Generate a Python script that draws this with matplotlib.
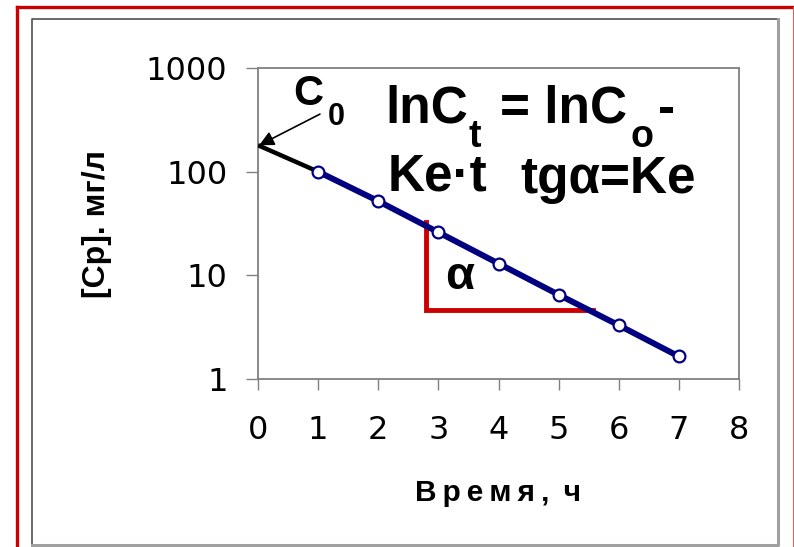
import matplotlib
matplotlib.use("Agg")
import matplotlib.pyplot as plt
from matplotlib.lines import Line2D

plt.rcParams["font.family"] = ["Liberation Sans", "DejaVu Sans"]

# данные
hours = [1, 2, 3, 4, 5, 6, 7]
conc = [100, 52, 26, 13, 6.5, 3.3, 1.65]
extrap_x = [0, 1]
extrap_y = [180, 100]
tri_x = [2.8, 2.8, 5.57]
tri_y = [32.7, 4.6, 4.6]
x_ticks = [0, 1, 2, 3, 4, 5, 6, 7, 8]
y_ticks = [1, 10, 100, 1000]

W, H = 794, 547
fig = plt.figure(figsize=(W / 100, H / 100), dpi=100)


def fx(px):
    return px / W


def fy(py):
    return 1 - py / H


# рамки вокруг рисунка
fig.add_artist(Line2D([fx(17), fx(17)], [fy(7), 0], color="#cc0000", lw=2.4))
fig.add_artist(Line2D([fx(17), fx(793)], [fy(7), fy(7)], color="#cc0000", lw=2.4))
fig.add_artist(Line2D([fx(792.5), fx(792.5)], [fy(7), 0], color="#d86060", lw=0.8))
fig.add_artist(Line2D([fx(32), fx(32), fx(778)], [0.003, fy(19), fy(19)], color="#505050", lw=1.2))
fig.add_artist(Line2D([fx(32), fx(778), fx(778)], [fy(545), fy(545), fy(19)], color="#a0a0a0", lw=2.2))

ax = fig.add_axes([fx(258), fy(379), fx(739) - fx(258), fy(68) - fy(379)])
ax.set_yscale("log")
ax.set_xlim(0, 8)
ax.set_ylim(1, 1000)

ax.plot(extrap_x, extrap_y, color="black", lw=3.2, solid_capstyle="butt", zorder=3)
ax.plot(hours, conc, color="#000080", lw=4.3, marker="o", markersize=8.5,
        markerfacecolor="white", markeredgecolor="#000080", markeredgewidth=1.6, zorder=4)
ax.plot(tri_x, tri_y, color="#cc0000", lw=3.5, solid_joinstyle="miter", zorder=2)

ax.annotate("", xy=(0.02, 180), xytext=(1.03, 359),
            arrowprops=dict(arrowstyle="-|>", color="black", lw=1.2,
                            mutation_scale=22, shrinkA=0, shrinkB=0))

ax.set_xticks(x_ticks)
ax.set_xticklabels([str(v) for v in x_ticks])
ax.set_yticks(y_ticks)
ax.set_yticklabels([str(v) for v in y_ticks])
ax.minorticks_off()
for lab in ax.get_xticklabels() + ax.get_yticklabels():
    lab.set_fontfamily("DejaVu Sans")
    lab.set_fontsize(23)
ax.tick_params(axis="x", length=8, width=1, color="#808080", pad=18)
ax.tick_params(axis="y", length=9, width=1, color="#808080", pad=13)
for sp in ax.spines.values():
    sp.set_color("#808080")
    sp.set_linewidth(1.3)

ax.set_xlabel("В\u2009р\u2009е\u2009м\u2009я\u2009,\u2009 ч", fontsize=21.5, fontweight="bold", labelpad=24)
ax.set_ylabel("[Cp]. мг/л", fontsize=23, fontweight="bold", labelpad=24)

# надписи на графике
txt = dict(fontweight="bold", color="black", transform=fig.transFigure, va="baseline", ha="left")
fig.text(fx(293), fy(105), "C", fontsize=30, **txt)
fig.text(fx(328), fy(125), "0", fontsize=22, **txt)
fig.text(fx(385), fy(123), "lnC", fontsize=37, **txt)
fig.text(fx(469), fy(147), "t", fontsize=27, **txt)
fig.text(fx(500), fy(123), "= lnC", fontsize=37, **txt)
fig.text(fx(631), fy(147), "o", fontsize=27, **txt)
fig.text(fx(658), fy(123), "-", fontsize=37, **txt)
fig.text(fx(388), fy(190), "Ke·t", fontsize=37, **txt)
fig.text(fx(520), fy(193), "tgα=Ke", fontsize=37, **txt)
fig.text(fx(460), fy(277), "α", fontsize=34, fontweight="bold", ha="center", va="center",
         transform=fig.transFigure)

fig.savefig("out.png", dpi=100)
